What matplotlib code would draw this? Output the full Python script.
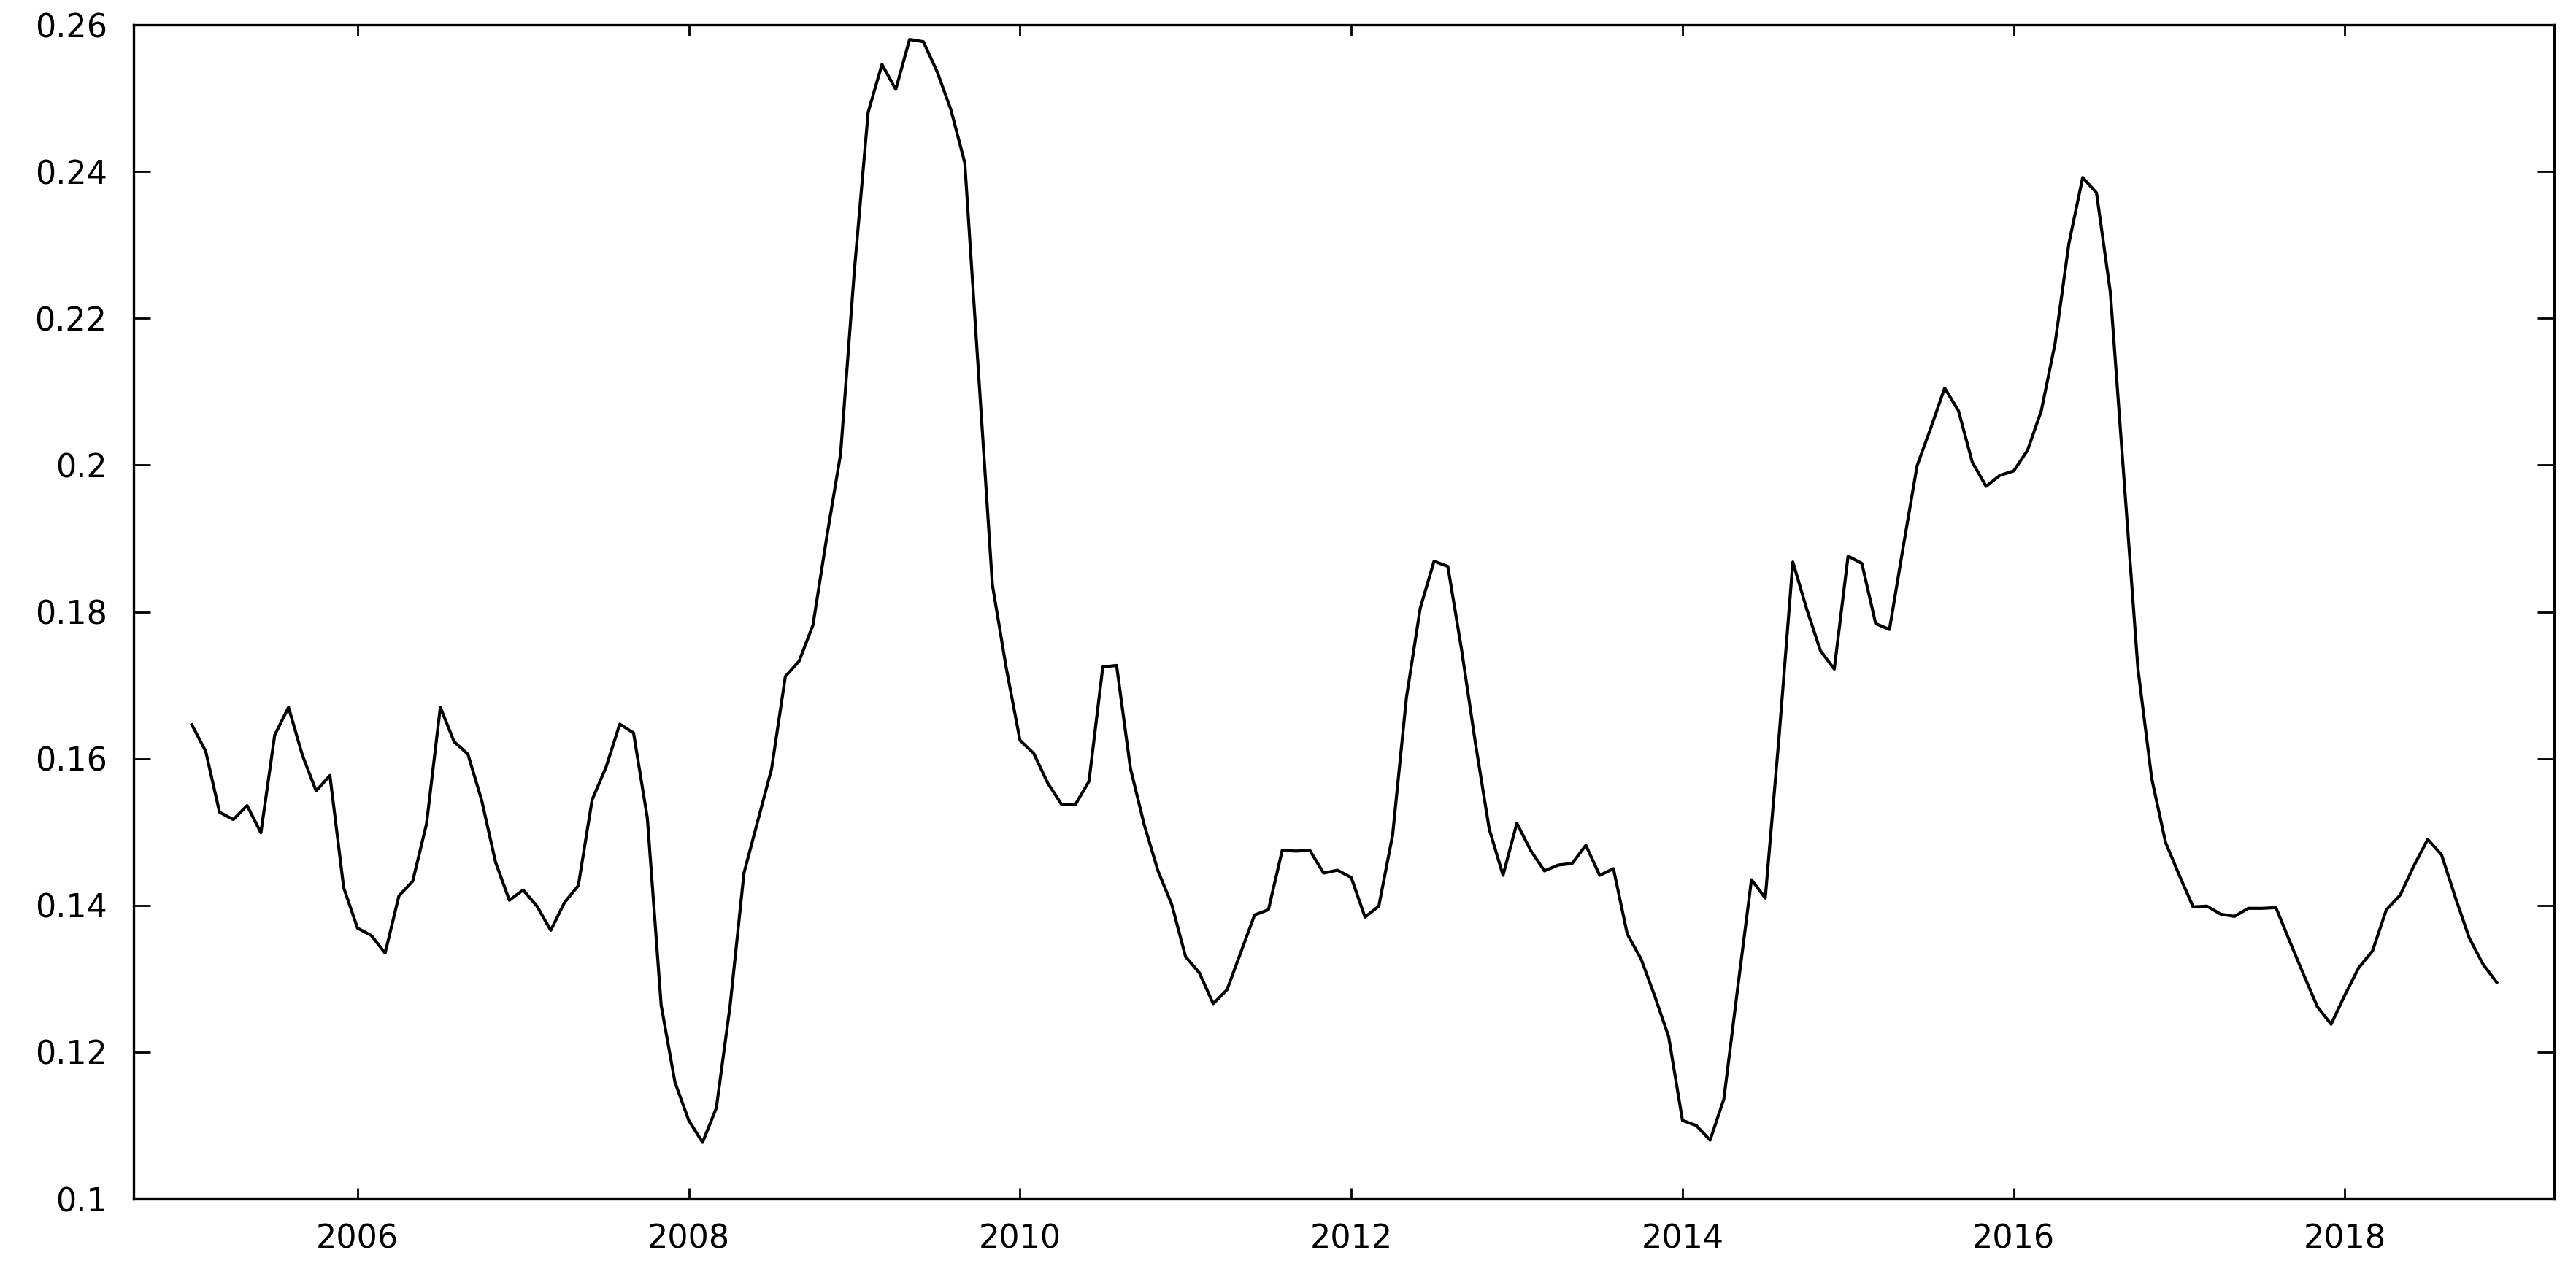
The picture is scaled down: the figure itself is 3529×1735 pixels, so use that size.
import numpy as np
import matplotlib
matplotlib.use("Agg")
import matplotlib.pyplot as plt
from matplotlib.ticker import FuncFormatter

# monthly series, Jan 2005 .. Dec 2018
start_year = 2005
values = [
    0.1646, 0.1610, 0.1527, 0.1517, 0.1536, 0.1499, 0.1632, 0.1670, 0.1605, 0.1556, 0.1577, 0.1424,
    0.1369, 0.1359, 0.1335, 0.1413, 0.1433, 0.1511, 0.1670, 0.1623, 0.1606, 0.1543, 0.1459, 0.1407,
    0.1421, 0.1399, 0.1366, 0.1404, 0.1427, 0.1544, 0.1588, 0.1647, 0.1635, 0.1519, 0.1264, 0.1159,
    0.1107, 0.1077, 0.1124, 0.1264, 0.1444, 0.1515, 0.1586, 0.1712, 0.1733, 0.1782, 0.1902, 0.2015,
    0.2265, 0.2481, 0.2546, 0.2512, 0.2580, 0.2577, 0.2536, 0.2484, 0.2412, 0.2125, 0.1837, 0.1724,
    0.1625, 0.1607, 0.1567, 0.1538, 0.1537, 0.1569, 0.1725, 0.1727, 0.1587, 0.1510, 0.1447, 0.1401,
    0.1330, 0.1308, 0.1266, 0.1285, 0.1336, 0.1387, 0.1394, 0.1475, 0.1474, 0.1475, 0.1444, 0.1448,
    0.1438, 0.1384, 0.1399, 0.1496, 0.1683, 0.1805, 0.1869, 0.1862, 0.1748, 0.1621, 0.1504, 0.1441,
    0.1512, 0.1475, 0.1447, 0.1455, 0.1457, 0.1482, 0.1441, 0.1450, 0.1361, 0.1327, 0.1276, 0.1221,
    0.1107, 0.1100, 0.1080, 0.1136, 0.1287, 0.1435, 0.1410, 0.1630, 0.1868, 0.1804, 0.1747, 0.1722,
    0.1876, 0.1866, 0.1784, 0.1776, 0.1889, 0.1999, 0.2051, 0.2105, 0.2074, 0.2004, 0.1971, 0.1986,
    0.1992, 0.2020, 0.2074, 0.2166, 0.2302, 0.2392, 0.2371, 0.2236, 0.1980, 0.1723, 0.1573, 0.1486,
    0.1441, 0.1398, 0.1399, 0.1388, 0.1385, 0.1396, 0.1396, 0.1397, 0.1351, 0.1306, 0.1262, 0.1238,
    0.1278, 0.1315, 0.1338, 0.1394, 0.1414, 0.1454, 0.1490, 0.1469, 0.1411, 0.1356, 0.1320, 0.1295,
]
xticks = [2006, 2008, 2010, 2012, 2014, 2016, 2018]
yticks = [0.1, 0.12, 0.14, 0.16, 0.18, 0.2, 0.22, 0.24, 0.26]

t = start_year + np.arange(len(values)) / 12.0

plt.rcParams['font.family'] = ['DejaVu Sans']

fig = plt.figure(figsize=(17.645, 8.675), dpi=200)
ax = fig.add_axes([0.0518, 0.0530, 0.9397, 0.9274])

ax.plot(t, values, color="black", linewidth=1.5)

ax.set_xlim(2004.647, 2019.263)
ax.set_ylim(0.1, 0.26)
ax.set_xticks(xticks)
ax.set_yticks(yticks)
ax.yaxis.set_major_formatter(FuncFormatter(lambda v, p: "%g" % round(v, 4)))

for s in ax.spines.values():
    s.set_linewidth(1.2)

ax.tick_params(axis="x", direction="in", top=True, length=5.4, width=1.0,
               labelsize=16, pad=12)
ax.tick_params(axis="y", direction="in", right=True, length=8.3, width=1.0,
               labelsize=16, pad=13)

fig.savefig("out.png", dpi=200)
